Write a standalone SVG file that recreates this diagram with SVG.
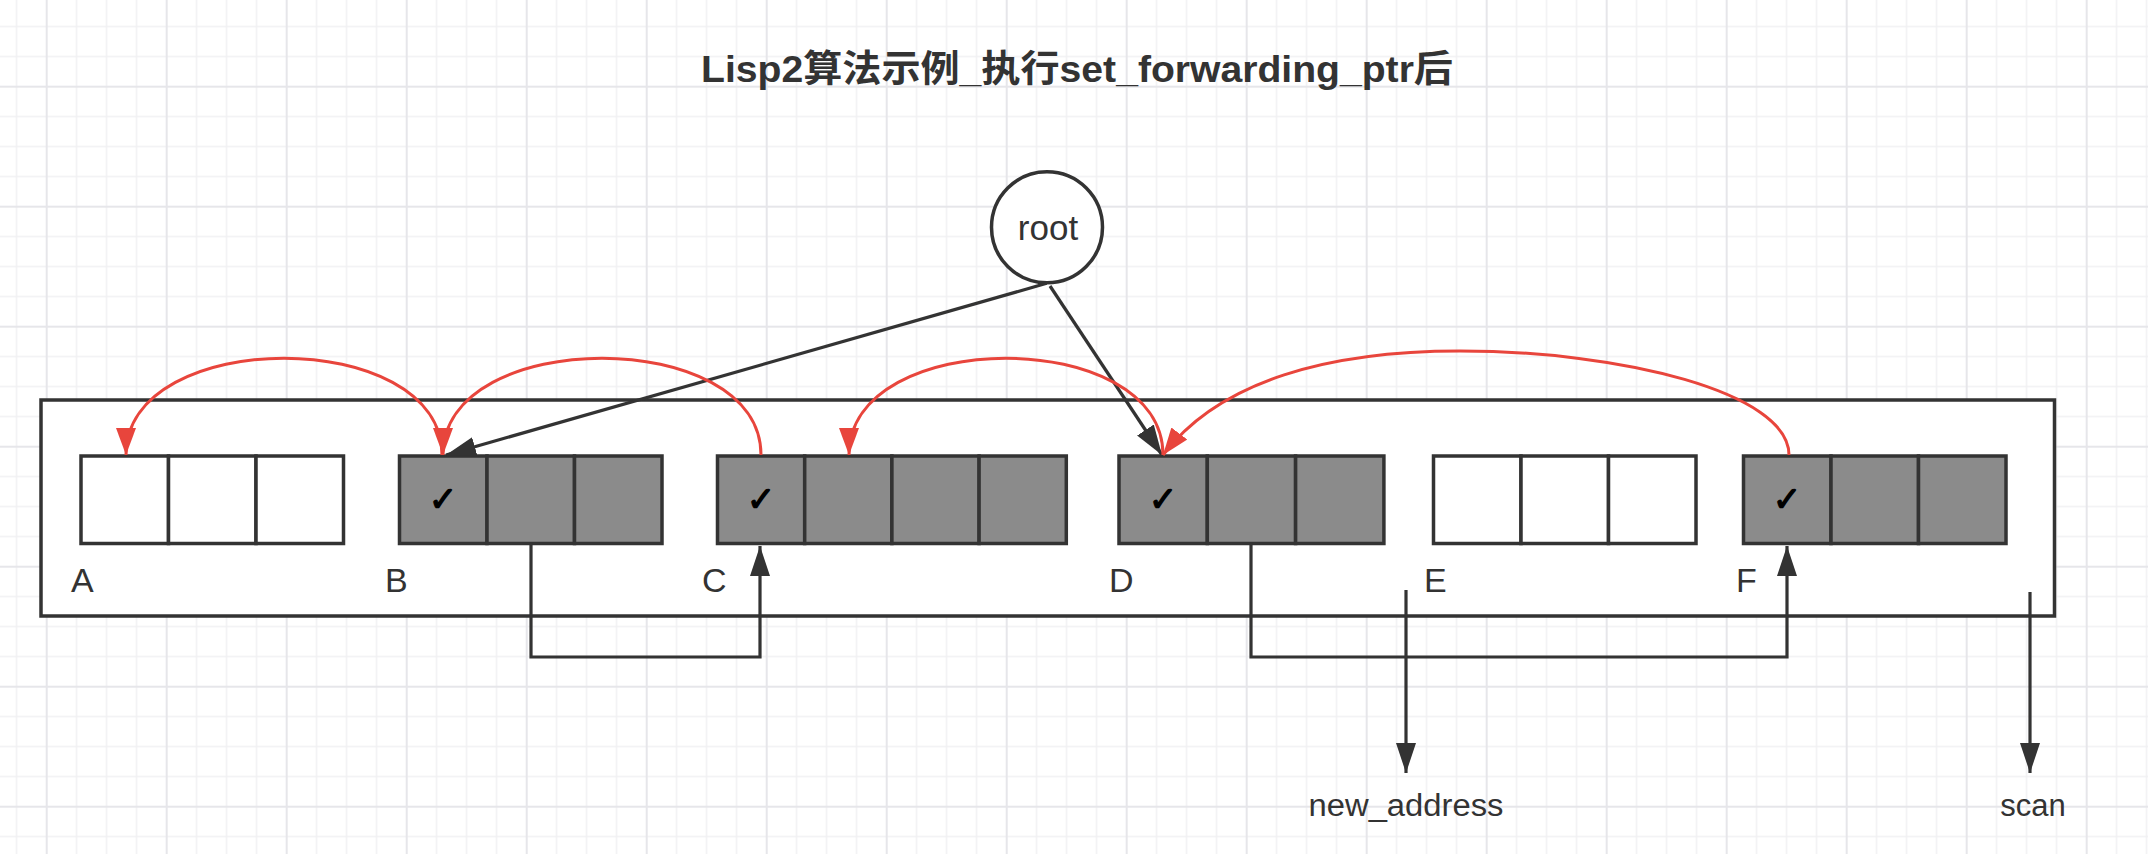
<svg xmlns="http://www.w3.org/2000/svg" width="2148" height="854" viewBox="0 0 2148 854">
  <defs>
    <pattern id="grid" patternUnits="userSpaceOnUse" x="45.7" y="85.7" width="120" height="120">
      <rect width="120" height="120" fill="#ffffff"/>
      <rect x="30" y="0" width="1.5" height="120" fill="#f1f1f3"/>
      <rect x="60" y="0" width="1.5" height="120" fill="#f1f1f3"/>
      <rect x="90" y="0" width="1.5" height="120" fill="#f1f1f3"/>
      <rect x="0" y="30" width="120" height="1.5" fill="#f1f1f3"/>
      <rect x="0" y="60" width="120" height="1.5" fill="#f1f1f3"/>
      <rect x="0" y="90" width="120" height="1.5" fill="#f1f1f3"/>
      <rect x="0" y="0" width="2" height="120" fill="#e6e6ea"/>
      <rect x="0" y="0" width="120" height="2" fill="#e6e6ea"/>
    </pattern>
    <marker id="arrBlack" markerUnits="userSpaceOnUse" markerWidth="34" markerHeight="24" refX="30" refY="10" orient="auto" viewBox="0 0 34 20">
      <path d="M0,0 L30,10 L0,20 Z" fill="#333333"/>
    </marker>
    <marker id="arrRed" markerUnits="userSpaceOnUse" markerWidth="30" markerHeight="22" refX="27" refY="10" orient="auto" viewBox="0 0 30 20">
      <path d="M0,0 L27,10 L0,20 Z" fill="#e8453c"/>
    </marker>
  </defs>
  <style>
    .cell { stroke: #333333; stroke-width: 3.5; }
    .used { fill: #8b8b8b; }
    .free { fill: #ffffff; }
    .lbl { font-family: "Liberation Sans", Arial, sans-serif; font-size: 34px; fill: #333333; }
    .chk { font-family: "DejaVu Sans", sans-serif; font-size: 34px; font-weight: bold; fill: #000000; stroke: #000000; stroke-width: 1.3; text-anchor: middle; }
    .blk { fill: none; stroke: #333333; stroke-width: 3.2; }
    .red { fill: none; stroke: #e8453c; stroke-width: 3; }
    .ptr { font-family: "Liberation Sans", Arial, sans-serif; font-size: 31px; fill: #333333; text-anchor: middle; }
  </style>

  <rect x="0" y="0" width="2148" height="854" fill="url(#grid)"/>

  <g id="title">
    <text x="1077" y="82" text-anchor="middle" textLength="752" lengthAdjust="spacingAndGlyphs" font-family="'Liberation Sans', 'Noto Sans CJK SC', sans-serif" font-size="37" font-weight="bold" fill="#333333">Lisp2算法示例_执行set_forwarding_ptr后</text>
  </g>

  <g id="heap">
    <rect x="41" y="400" width="2013.5" height="216" fill="#ffffff" stroke="#333333" stroke-width="3.5"/>
  </g>

  <g id="root">
    <circle cx="1047" cy="227.3" r="55.5" fill="#ffffff" stroke="#333333" stroke-width="3.5"/>
    <text x="1048" y="240" text-anchor="middle" font-family="'Liberation Sans', Arial, sans-serif" font-size="35" fill="#333333">root</text>
  </g>

  <g id="blockA">
    <rect class="cell free" x="81" y="456" width="87.5" height="87.5"/>
    <rect class="cell free" x="168.5" y="456" width="87.5" height="87.5"/>
    <rect class="cell free" x="256" y="456" width="87.5" height="87.5"/>
    <text class="lbl" x="71" y="592">A</text>
  </g>

  <g id="blockB">
    <rect class="cell used" x="399.5" y="456" width="87.5" height="87.5"/>
    <rect class="cell used" x="487" y="456" width="87.5" height="87.5"/>
    <rect class="cell used" x="574.5" y="456" width="87.5" height="87.5"/>
    <text class="chk" x="443" y="511">✓</text>
    <text class="lbl" x="385" y="592">B</text>
  </g>

  <g id="blockC">
    <rect class="cell used" x="717.5" y="456" width="87.2" height="87.5"/>
    <rect class="cell used" x="804.7" y="456" width="87.2" height="87.5"/>
    <rect class="cell used" x="891.9" y="456" width="87.2" height="87.5"/>
    <rect class="cell used" x="979.1" y="456" width="87.2" height="87.5"/>
    <text class="chk" x="761" y="511">✓</text>
    <text class="lbl" x="702" y="592">C</text>
  </g>

  <g id="blockD">
    <rect class="cell used" x="1119" y="456" width="88.3" height="87.5"/>
    <rect class="cell used" x="1207.3" y="456" width="88.3" height="87.5"/>
    <rect class="cell used" x="1295.6" y="456" width="88.3" height="87.5"/>
    <text class="chk" x="1163" y="511">✓</text>
    <text class="lbl" x="1109" y="592">D</text>
  </g>

  <g id="blockE">
    <rect class="cell free" x="1433.5" y="456" width="87.5" height="87.5"/>
    <rect class="cell free" x="1521" y="456" width="87.5" height="87.5"/>
    <rect class="cell free" x="1608.5" y="456" width="87.5" height="87.5"/>
    <text class="lbl" x="1424" y="592">E</text>
  </g>

  <g id="blockF">
    <rect class="cell used" x="1743.5" y="456" width="87.5" height="87.5"/>
    <rect class="cell used" x="1831" y="456" width="87.5" height="87.5"/>
    <rect class="cell used" x="1918.5" y="456" width="87.5" height="87.5"/>
    <text class="chk" x="1787" y="511">✓</text>
    <text class="lbl" x="1736" y="592">F</text>
  </g>

  <g id="pointers">
    <text class="ptr" x="1406" y="816" textLength="195" lengthAdjust="spacingAndGlyphs">new_address</text>
    <text class="ptr" x="2033" y="816">scan</text>
  </g>

  <g id="connectors">
    <path class="blk" d="M1046.7,283.3 L446,455" marker-end="url(#arrBlack)"/>
    <path class="blk" d="M1050,286 L1162,455" marker-end="url(#arrBlack)"/>
    <path class="blk" d="M531,543.5 V657 H760 V546" marker-end="url(#arrBlack)"/>
    <path class="blk" d="M1251,543.5 V657 H1787 V546" marker-end="url(#arrBlack)"/>
    <path class="blk" d="M1406,590 V773" marker-end="url(#arrBlack)"/>
    <path class="blk" d="M2030,592 V773" marker-end="url(#arrBlack)"/>
    <path class="red" d="M442,455 C442,326 126,326 126,455" marker-end="url(#arrRed)"/>
    <path class="red" d="M761,455 C761,326 443,326 443,455" marker-end="url(#arrRed)"/>
    <path class="red" d="M1163,455 C1163,326 849,326 849,455" marker-end="url(#arrRed)"/>
    <path class="red" d="M1789,455 C1789,392 1620,351 1460,351 C1330,351 1220,380 1163,455" marker-end="url(#arrRed)"/>
  </g>
</svg>
